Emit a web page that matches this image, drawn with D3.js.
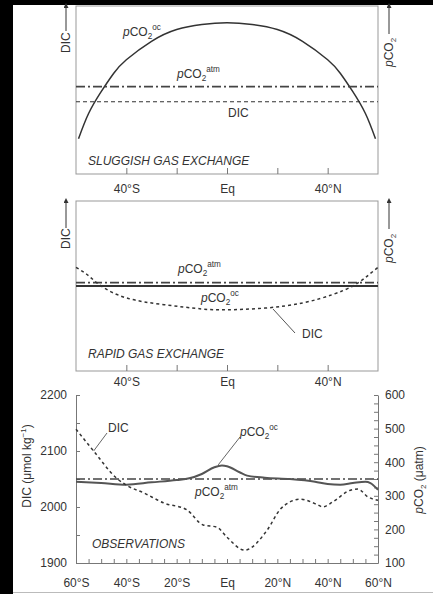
<!DOCTYPE html>
<html>
<head>
<meta charset="utf-8">
<script src="https://cdn.jsdelivr.net/npm/d3@7"></script>
<style>
  body { margin: 0; background: #fff; }
  svg text { font-family: "Liberation Sans", Arial, sans-serif; fill: #333; }
</style>
</head>
<body>
<div class="canvas"></div>
<script>
// ---- data ----
// panel 1: sluggish gas exchange (schematic, arbitrary units 0-100)
const lat1 = [-59, -55, -50, -45, -40, -30, -20, -10, 0, 10, 20, 30, 40, 45, 50, 55, 59];
const pco2oc1 = [21, 36, 49, 60, 68, 79, 86, 89, 90, 89, 86, 79, 68, 60, 49, 36, 21];
const pco2atm1 = 52;
const dic1 = 43;

// panel 2: rapid gas exchange (schematic)
const lat2 = [-60, -55, -50, -40, -25, -10, 0, 15, 30, 42, 50, 55, 60];
const dic2 = [61, 56, 50, 43, 39, 36.5, 36, 37, 40, 45, 50, 55, 61];
const pco2atm2 = 52;
const pco2oc2 = 50;

// panel 3: observations
const latOc = [-60, -50, -40, -30, -20, -15, -10, -5, -2, 0, 5, 8, 15, 25, 35, 40, 45, 50, 55, 57, 60];
const pco2oc3 = [342, 338, 333, 340, 347, 352, 365, 385, 390, 388, 370, 360, 354, 350, 342, 335, 333, 338, 342, 338, 318];
const latDic = [-60, -53, -44, -40, -33, -25, -16, -9.5, -4, 0, 7, 16, 21, 25, 29, 36, 38, 42, 49, 52, 56, 60];
const dic3 = [2139, 2100, 2052, 2039, 2025, 2007, 1995, 1968, 1964, 1946, 1923, 1959, 1995, 2009, 2014, 2004, 2000, 2009, 2030, 2032, 2018, 2012];
const pco2atm3 = 350;

// tick labels
const schemTicks = [-40, -20, 0, 20, 40];
const schemLabels = { "-40": "40°S", "0": "Eq", "40": "40°N" };
const obsLabels = { "-60": "60°S", "-40": "40°S", "-20": "20°S", "0": "Eq", "20": "20°N", "40": "40°N", "60": "60°N" };
const dicTicks = [1900, 2000, 2100, 2200];
const pco2Ticks = [100, 200, 300, 400, 500, 600];

// ---- svg ----
const W = 433, H = 594;
const svg = d3.select(".canvas").append("svg").attr("width", W).attr("height", H);

svg.append("rect").attr("width", W).attr("height", H).attr("fill", "#fff");
svg.append("rect").attr("x", 0).attr("y", 0).attr("width", 13).attr("height", H).attr("fill", "#000");
svg.append("rect").attr("x", 0).attr("y", 0).attr("width", W).attr("height", 5).attr("fill", "#000");
svg.append("line").attr("x1", 13).attr("x2", W).attr("y1", 592.5).attr("y2", 592.5)
  .attr("stroke", "#bbb");

const defs = svg.append("defs");
defs.append("marker").attr("id", "arr").attr("viewBox", "0 0 10 10")
  .attr("refX", 5).attr("refY", 10).attr("markerWidth", 5).attr("markerHeight", 7)
  .attr("orient", "0")
  .append("path").attr("d", "M0,10 L5,0 L10,10 Z").attr("fill", "#333");

const x = d3.scaleLinear().domain([-60, 60]).range([76, 378]);

const dashDot = "9,3,2,3";

// chemical label  pCO2^sup
const chem = (g, px, py, sup, size = 12) => {
  const t = g.append("text").attr("x", px).attr("y", py).attr("font-size", size);
  t.append("tspan").style("font-style", "italic").text("p");
  t.append("tspan").text("CO");
  t.append("tspan").attr("font-size", size * 0.68).attr("dy", 3).text("2");
  if (sup) t.append("tspan").attr("font-size", size * 0.68).attr("dy", -9).text(sup);
  return t;
};

// vertical arrow label (DIC ---> / pCO2 --->)
const arrowLabel = (g, bx, textStart, lineFrom, lineTo, kind) => {
  const t = g.append("text").attr("transform", `translate(${bx},${textStart}) rotate(-90)`)
    .attr("font-size", 12);
  if (kind === "dic") t.text("DIC");
  else {
    t.append("tspan").style("font-style", "italic").text("p");
    t.append("tspan").text("CO");
    t.append("tspan").attr("font-size", 8).attr("dy", 3).text("2");
  }
  g.append("line").attr("x1", bx - 4).attr("x2", bx - 4).attr("y1", lineFrom).attr("y2", lineTo)
    .attr("stroke", "#333").attr("stroke-width", 1).attr("marker-end", "url(#arr)");
};

const schematicPanel = (top, bottom, labelPad) => {
  const y = d3.scaleLinear().domain([0, 100]).range([bottom, top]);
  const g = svg.append("g");
  g.append("rect").attr("x", x(-60)).attr("y", top).attr("width", x(60) - x(-60))
    .attr("height", bottom - top).attr("fill", "none").attr("stroke", "#999");
  const ax = g.append("g").attr("transform", `translate(0,${bottom})`)
    .call(d3.axisBottom(x).tickValues(schemTicks).tickSizeInner(-6).tickSizeOuter(0)
      .tickPadding(labelPad).tickFormat(d => schemLabels[d] || ""));
  ax.select(".domain").remove();
  ax.selectAll("line").attr("stroke", "#777");
  ax.selectAll("text").attr("font-size", 12).attr("font-family", null).attr("fill", "#333");
  return { g, y };
};

// ---- panel 1 ----
{
  const { g, y } = schematicPanel(6, 174, 10);
  g.append("path").datum(lat1.map((d, i) => [d, pco2oc1[i]]))
    .attr("d", d3.line().x(d => x(d[0])).y(d => y(d[1])).curve(d3.curveNatural))
    .attr("fill", "none").attr("stroke", "#333").attr("stroke-width", 1.5);
  g.append("line").attr("x1", x(-60)).attr("x2", x(60)).attr("y1", y(pco2atm1)).attr("y2", y(pco2atm1))
    .attr("stroke", "#444").attr("stroke-width", 1.6).attr("stroke-dasharray", dashDot);
  g.append("line").attr("x1", x(-60)).attr("x2", x(60)).attr("y1", y(dic1)).attr("y2", y(dic1))
    .attr("stroke", "#333").attr("stroke-width", 1.2).attr("stroke-dasharray", "4,3");
  chem(g, 123, 36, "oc");
  chem(g, 177, 78, "atm");
  g.append("text").attr("x", 228).attr("y", 117).attr("font-size", 12).text("DIC");
  g.append("text").attr("x", 88).attr("y", 165).attr("font-size", 12).style("font-style", "italic")
    .text("SLUGGISH GAS EXCHANGE");
  arrowLabel(g, 70, 53, 31, 8, "dic");
  arrowLabel(g, 393, 67, 34, 8, "pco2");
}

// ---- panel 2 ----
{
  const { g, y } = schematicPanel(201, 371, 6);
  g.append("line").attr("x1", x(-60)).attr("x2", x(60)).attr("y1", y(pco2atm2)).attr("y2", y(pco2atm2))
    .attr("stroke", "#444").attr("stroke-width", 1.6).attr("stroke-dasharray", dashDot);
  g.append("line").attr("x1", x(-60)).attr("x2", x(60)).attr("y1", y(pco2oc2)).attr("y2", y(pco2oc2))
    .attr("stroke", "#333").attr("stroke-width", 2);
  g.append("path").datum(lat2.map((d, i) => [d, dic2[i]]))
    .attr("d", d3.line().x(d => x(d[0])).y(d => y(d[1])).curve(d3.curveNatural))
    .attr("fill", "none").attr("stroke", "#333").attr("stroke-width", 1.5).attr("stroke-dasharray", "3,3");
  chem(g, 178, 273, "atm");
  chem(g, 201, 302, "oc");
  g.append("line").attr("x1", 273).attr("y1", 309).attr("x2", 295).attr("y2", 333)
    .attr("stroke", "#555");
  g.append("text").attr("x", 302).attr("y", 338).attr("font-size", 12).text("DIC");
  g.append("text").attr("x", 88).attr("y", 358).attr("font-size", 12).style("font-style", "italic")
    .text("RAPID GAS EXCHANGE");
  arrowLabel(g, 70, 249, 228, 203, "dic");
  arrowLabel(g, 393, 263, 229, 203, "pco2");
}

// ---- panel 3 ----
{
  const top = 395, bottom = 563;
  const yL = d3.scaleLinear().domain([1900, 2200]).range([bottom, top]);
  const yR = d3.scaleLinear().domain([100, 600]).range([bottom, top]);
  const g = svg.append("g");

  const style = sel => {
    sel.select(".domain").attr("stroke", "#777");
    sel.selectAll("line").attr("stroke", "#777");
    sel.selectAll("text").attr("font-size", 12).attr("font-family", null).attr("fill", "#333");
  };

  g.append("g").attr("transform", `translate(0,${bottom})`)
    .call(d3.axisBottom(x).tickValues(d3.range(-60, 61, 5)).tickSizeInner(-4).tickSizeOuter(0)
      .tickPadding(15).tickFormat(d => obsLabels[d] || ""))
    .call(style);
  g.append("g").attr("transform", `translate(${x(-60)},0)`)
    .call(d3.axisLeft(yL).tickValues(d3.range(1900, 2201, 50)).tickSizeInner(-4).tickSizeOuter(0)
      .tickPadding(9).tickFormat(d => dicTicks.includes(d) ? d : ""))
    .call(style);
  g.append("g").attr("transform", `translate(${x(60)},0)`)
    .call(d3.axisRight(yR).tickValues(d3.range(100, 601, 25)).tickSizeInner(-4).tickSizeOuter(0)
      .tickPadding(7).tickFormat(d => pco2Ticks.includes(d) ? d : ""))
    .call(style);

  g.append("line").attr("x1", x(-60)).attr("x2", x(60)).attr("y1", yR(pco2atm3)).attr("y2", yR(pco2atm3))
    .attr("stroke", "#444").attr("stroke-width", 1.6).attr("stroke-dasharray", dashDot);
  g.append("path").datum(latOc.map((d, i) => [d, pco2oc3[i]]))
    .attr("d", d3.line().x(d => x(d[0])).y(d => yR(d[1])).curve(d3.curveMonotoneX))
    .attr("fill", "none").attr("stroke", "#555").attr("stroke-width", 2);
  g.append("path").datum(latDic.map((d, i) => [d, dic3[i]]))
    .attr("d", d3.line().x(d => x(d[0])).y(d => yL(d[1])).curve(d3.curveMonotoneX))
    .attr("fill", "none").attr("stroke", "#333").attr("stroke-width", 1.5).attr("stroke-dasharray", "3,3");

  // annotations
  g.append("line").attr("x1", x(-53)).attr("y1", yL(2100)).attr("x2", 107).attr("y2", 433)
    .attr("stroke", "#666");
  g.append("text").attr("x", 108).attr("y", 432).attr("font-size", 12).text("DIC");
  g.append("line").attr("x1", x(-3.5)).attr("y1", yR(392)).attr("x2", 240).attr("y2", 437)
    .attr("stroke", "#666");
  chem(g, 240, 436, "oc");
  chem(g, 195, 496, "atm");
  g.append("text").attr("x", 92).attr("y", 548).attr("font-size", 12).style("font-style", "italic")
    .text("OBSERVATIONS");

  const lt = g.append("text").attr("transform", `translate(31,466) rotate(-90)`)
    .attr("font-size", 12).attr("text-anchor", "middle");
  lt.append("tspan").text("DIC (μmol kg");
  lt.append("tspan").attr("font-size", 8).attr("dy", -5).text("−1");
  lt.append("tspan").attr("dy", 5).text(")");

  const rt = g.append("text").attr("transform", `translate(423,480) rotate(-90)`)
    .attr("font-size", 12).attr("text-anchor", "middle");
  rt.append("tspan").style("font-style", "italic").text("p");
  rt.append("tspan").text("CO");
  rt.append("tspan").attr("font-size", 8).attr("dy", 3).text("2");
  rt.append("tspan").attr("dy", -3).text(" (μatm)");
}
</script>
</body>
</html>
